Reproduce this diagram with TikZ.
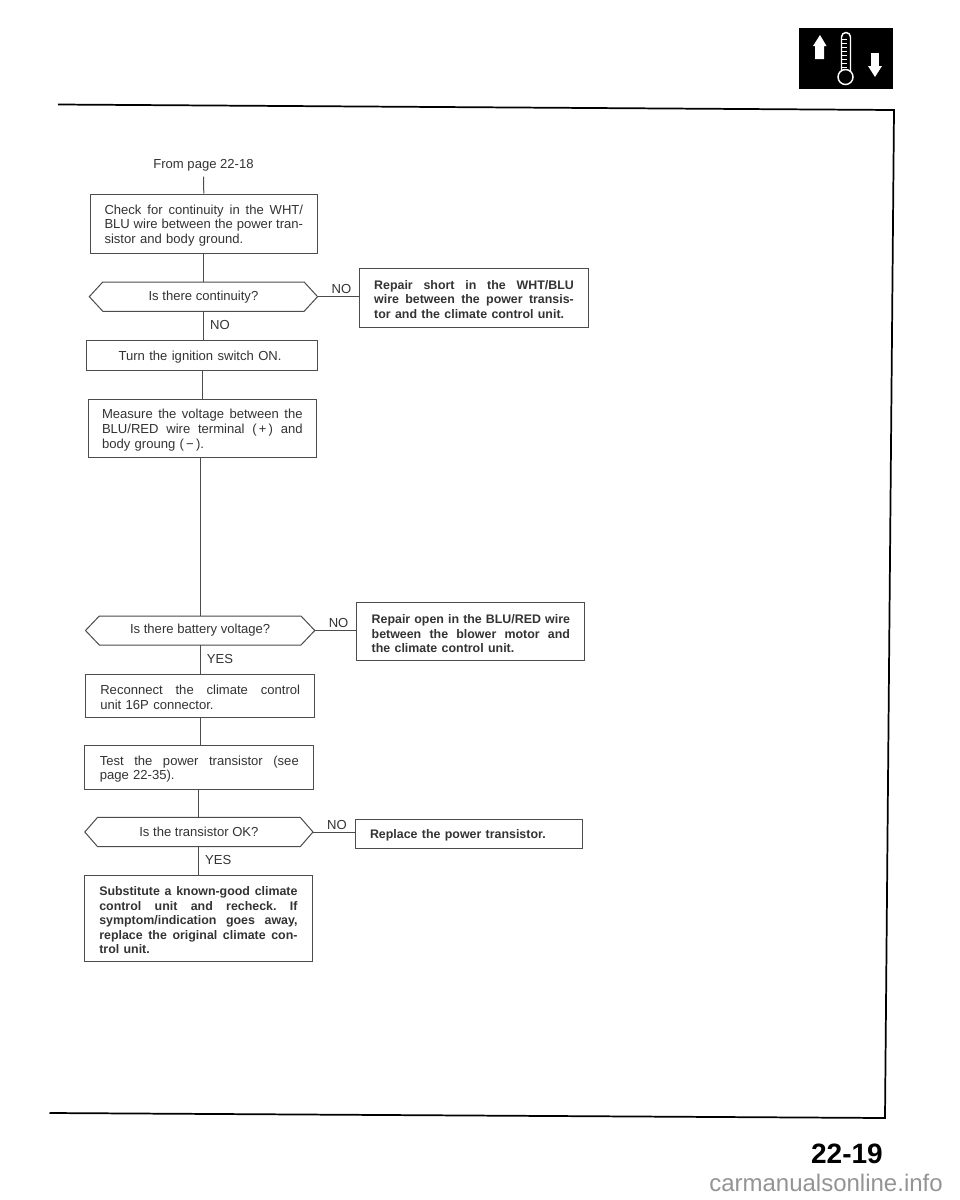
\documentclass[tikz,border=0pt]{standalone}
\usepackage{fontspec}
\setmainfont{Liberation Sans}
\definecolor{ink}{gray}{0.2}
\definecolor{edge}{gray}{0.3}
\definecolor{mark}{gray}{0.58}
\newcommand{\jl}[1]{\makebox[\hsize][s]{\spaceskip=0.22em plus 1fil\xspaceskip=\spaceskip\relax #1}\\}
\newcommand{\bodyfont}{\fontsize{9.8pt}{10.9pt}\selectfont}
\newcommand{\boldfont}{\fontsize{9.3pt}{10.9pt}\selectfont\bfseries}
\tikzset{
  x=0.75pt,y=-0.75pt,
  boxstyle/.style={draw=edge,line width=0.75pt,rectangle,inner ysep=0pt,font=\bodyfont,text=ink,align=left},
  hexlabel/.style={rectangle,inner sep=0pt,font=\bodyfont,text=ink,align=center},
  hexline/.style={draw=edge,line width=0.75pt},
  framerule/.style={draw=black,line width=1.3pt},
  conn/.style={draw=edge,line width=0.75pt},
  lab/.style={font=\bodyfont,text=ink,inner sep=0pt},
}
% name, x0, y0, x1, y1, text margin, content
\newcommand{\fbx}[7]{%
  \pgfmathsetlengthmacro{\bw}{(#4-#2)*0.75pt}%
  \pgfmathsetlengthmacro{\bh}{(#5-#3)*0.75pt}%
  \pgfmathsetlengthmacro{\bm}{#6*0.75pt}%
  \pgfmathsetlengthmacro{\bt}{(#4-#2-2*#6)*0.75pt}%
  \node[boxstyle,minimum width=\bw,minimum height=\bh,inner xsep=\bm,text width=\bt] (#1) at ({(#2+#4)/2},{(#3+#5)/2}) {\leavevmode\rule{0pt}{9.7pt}#7};}
% name, x0, y0, x1, y1, inset, content
\newcommand{\hbx}[7]{%
  \pgfmathsetlengthmacro{\bw}{(#4-#2)*0.75pt}%
  \pgfmathsetlengthmacro{\bh}{(#5-#3)*0.75pt}%
  \draw[hexline] (#2,{(#3+#5)/2}) -- ({#2+#6},#3) -- ({#4-#6},#3) -- (#4,{(#3+#5)/2}) -- ({#4-#6},#5) -- ({#2+#6},#5) -- cycle;
  \node[hexlabel,minimum width=\bw,minimum height=\bh] (#1) at ({(#2+#4)/2},{(#3+#5)/2}) {#7};}
\begin{document}
\begin{tikzpicture}
\useasboundingbox[fill=white] (0,0) rectangle (960,1200);
% frame
\draw[framerule] (58,104.5) -- (894,110) -- (885,1118) -- (49.5,1113);
% icon
\fill[black] (799,28) rectangle (893,89);
\fill[white] (820,35) -- (826.5,46) -- (824,46) -- (824,59) -- (815,59) -- (815,46) -- (813,46) -- cycle;
\fill[white] (871,53) rectangle (879,66);
\fill[white] (868,66) -- (882,66) -- (875,77) -- cycle;
\draw[white,line width=1.1pt] (841.5,71) -- (841.5,37) arc (180:360:4.5) -- (850.5,71);
\draw[white,line width=1.1pt] (845.5,77) circle (7.5);
\foreach \yy in {39,43,...,67}{\draw[white,line width=.5pt] (842,\yy) -- (847,\yy);}
% nodes
\node[lab,inner ysep=4pt] (from) at (203.5,165) {From page 22-18};
\fbx{b1}{90}{194}{317.6}{253}{14.5}{\jl{Check for continuity in the WHT/}\jl{BLU wire between the power tran-}sistor and body ground.}
\hbx{h1}{89.3}{282}{317.6}{311.3}{13.5}{Is there continuity?}
\fbx{r1}{359.7}{268}{588.3}{327}{14.5}{\boldfont\jl{Repair short in the WHT/BLU}\jl{wire between the power transis-}tor and the climate control unit.}
\fbx{b2}{86.2}{340.7}{317}{370}{32.4}{Turn the ignition switch ON.}
\fbx{b3}{88}{399}{316.6}{457.7}{14}{\jl{Measure the voltage between the}\jl{BLU/RED wire terminal (\,+\,) and}body groung (\,−\,).}
\hbx{h2}{85.5}{616}{314.8}{645}{13.8}{Is there battery voltage?}
\fbx{r2}{356.9}{602.7}{584.8}{660.7}{14.8}{\boldfont\jl{Repair open in the BLU/RED wire}\jl{between the blower motor and}the climate control unit.}
\fbx{b4}{85.9}{674}{314.5}{717}{14.4}{\jl{Reconnect the climate control}unit 16P connector.}
\fbx{b5}{84.8}{745.7}{313.8}{789}{15}{\jl{Test the power transistor (see}page 22-35).}
\hbx{h3}{84.8}{817.3}{313}{846.7}{12.8}{Is the transistor OK?}
\fbx{r3}{355.2}{819.3}{582.8}{848.3}{14.8}{\boldfont Replace the power transistor.}
\fbx{b6}{84.8}{875}{312}{961.7}{14.5}{\boldfont\jl{Substitute a known-good climate}\jl{control unit and recheck. If}\jl{symptom/indication goes away,}\jl{replace the original climate con-}trol unit.}
% connectors
\draw[conn] (from.south) -- (b1.north);
\draw[conn] (b1.south) -- (b1.south |- h1.north);
\draw[conn] (h1.south) -- (h1.south |- b2.north);
\draw[conn] (b3.north |- b2.south) -- (b3.north);
\draw[conn] (h2.north |- b3.south) -- (h2.north);
\draw[conn] (h2.south) -- (h2.south |- b4.north);
\draw[conn] (b4.south) -- (b4.south |- b5.north);
\draw[conn] (h3.north |- b5.south) -- (h3.north);
\draw[conn] (h3.south) -- (h3.south |- b6.north);
\draw[conn] (h1.east) -- (h1.east -| r1.west);
\draw[conn] (h2.east) -- (h2.east -| r2.west);
\draw[conn] (h3.east) -- (h3.east -| r3.west);
% connector labels
\node[lab] (n1) at (341.4,289.3) {NO};
\node[lab] (n2) at (220,325.3) {NO};
\node[lab] (n3) at (338.6,623) {NO};
\node[lab] (y1) at (220,658.7) {YES};
\node[lab] (n4) at (337,825) {NO};
\node[lab] (y2) at (218.3,859.7) {YES};
% page number and footer
\node[inner sep=0pt,anchor=base east,font=\fontsize{21pt}{23pt}\selectfont\bfseries] (pg) at (883,1163) {22-19};
\node[inner sep=0pt,anchor=base east,text=mark,font=\fontsize{18pt}{20pt}\selectfont] (wm) at (943,1191) {carmanualsonline.info};
\end{tikzpicture}
\end{document}
